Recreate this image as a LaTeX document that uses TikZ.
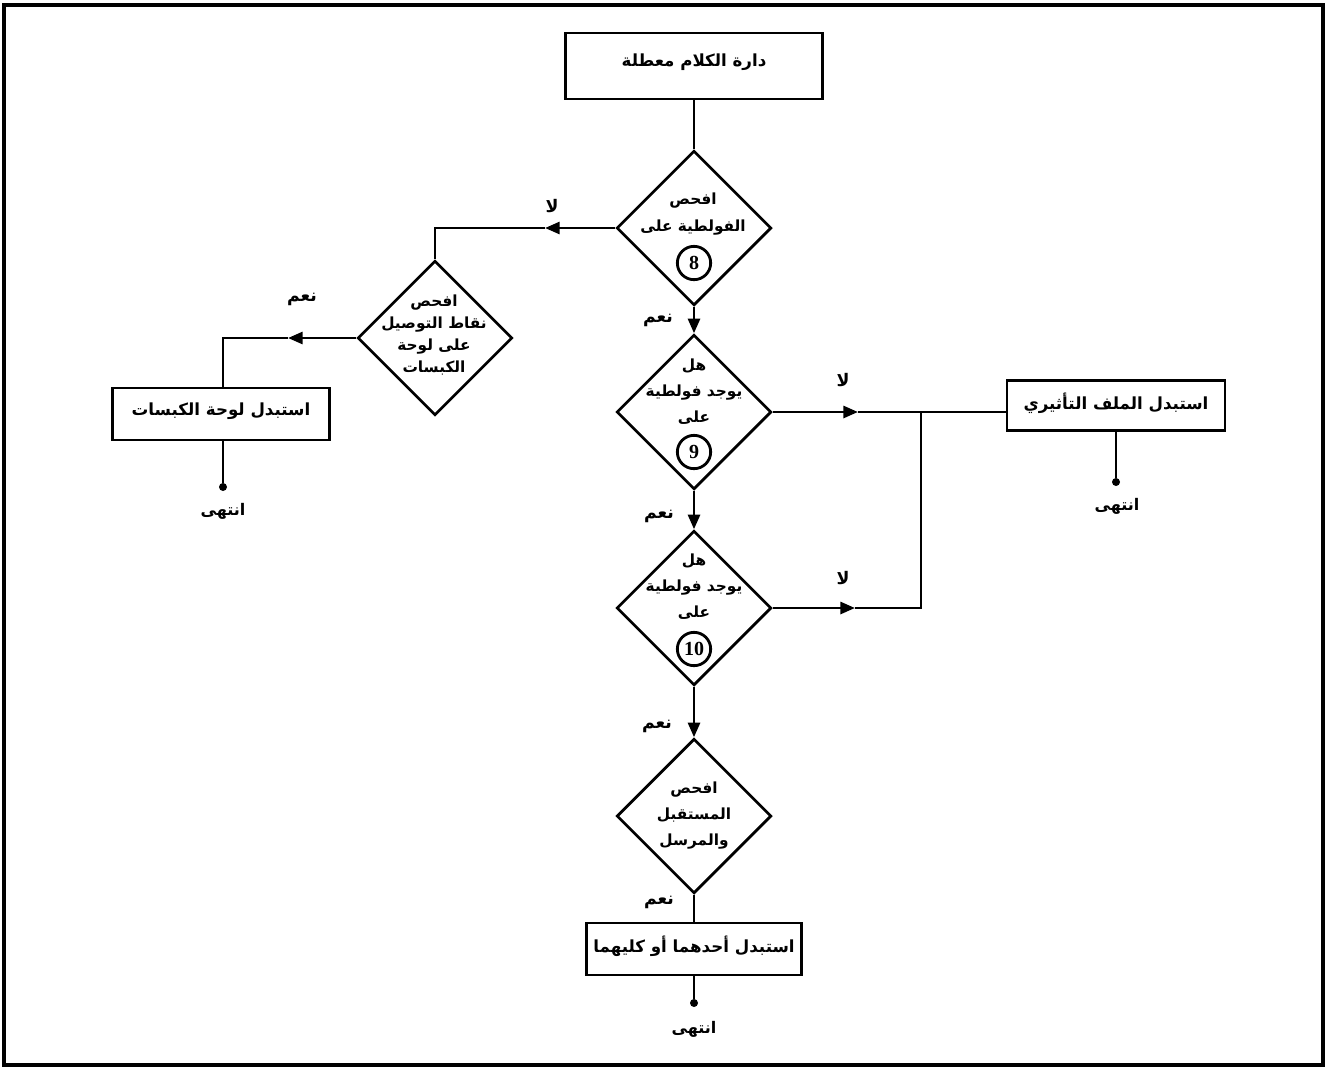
\documentclass[tikz,border=0pt]{standalone}
\usepackage{fontspec}
\TeXXeTstate=1
\newfontfamily\arabicfont[Script=Arabic]{DejaVu Sans}
\setmainfont{Liberation Serif}
\usetikzlibrary{shapes.geometric,arrows.meta}
\newcommand\ar[1]{{\arabicfont\bfseries\beginR #1\endR}}
\tikzset{
  ln/.style={line width=2.1pt},
  arr/.style={ln,-{Triangle[length=11pt,width=9pt]}},
  boxn/.style={draw,ln,rectangle,inner sep=0pt},
  dia/.style={draw,ln,diamond,minimum width=116pt,minimum height=116pt,inner sep=0pt},
  txtbox/.style={inner sep=0pt,font=\fontsize{12.5}{14}\selectfont},
  txtdia/.style={inner sep=0pt,align=center},
  lab/.style={inner sep=0pt,font=\fontsize{13}{15}\selectfont},
  endlab/.style={inner sep=0pt,font=\fontsize{12}{14}\selectfont},
  numc/.style={draw,ln,circle,minimum size=25pt,inner sep=0pt,font=\fontsize{15}{16}\selectfont\bfseries},
  enddot/.style={circle,fill=black,minimum size=6pt,inner sep=0pt},
}
\begin{document}
\begin{tikzpicture}[x=0.75pt,y=-0.75pt]
\useasboundingbox (0,0) rectangle (1327,1068);
\draw[line width=2.6pt] (4,5) rectangle (1323,1065);

% nodes
\node[boxn,minimum width=193pt,minimum height=49.5pt] (t) at (694,66) {};
\node[txtbox] (tt) at (694,62) {\ar{دارة الكلام معطلة}};

\node[dia] (d1) at (694,228) {};
\node[txtdia,font=\fontsize{11.5}{20}\selectfont] (d1t) at (693,214) {\ar{افحص}\\\ar{الفولطية على}};
\node[numc] (c8) at (694,263) {8};

\node[dia] (dl) at (435,338) {};
\node[txtdia,font=\fontsize{11.5}{16.5}\selectfont] (dlt) at (434,335) {\ar{افحص}\\\ar{نقاط التوصيل}\\\ar{على لوحة}\\\ar{الكبسات}};

\node[boxn,minimum width=163pt,minimum height=39pt] (lb) at (221,414) {};
\node[txtbox] (lbt) at (221,411) {\ar{استبدل لوحة الكبسات}};
\node[enddot] (ldot) at (223,487) {};
\node[endlab] (lend) at (223,511) {\ar{انتهى}};

\node[dia] (d2) at (694,412) {};
\node[txtdia,font=\fontsize{11.5}{19.5}\selectfont] (d2t) at (694,392) {\ar{هل}\\\ar{يوجد فولطية}\\\ar{على}};
\node[numc] (c9) at (694,452) {9};

\node[dia] (d3) at (694,608) {};
\node[txtdia,font=\fontsize{11.5}{19.5}\selectfont] (d3t) at (694,587) {\ar{هل}\\\ar{يوجد فولطية}\\\ar{على}};
\node[numc] (c10) at (694,649) {10};

\node[boxn,minimum width=163.5pt,minimum height=38pt] (rb) at (1116,405.5) {};
\node[txtbox] (rbt) at (1116,403) {\ar{استبدل الملف التأثيري}};
\node[enddot] (rdot) at (1116,482) {};
\node[endlab] (rend) at (1117,506) {\ar{انتهى}};

\node[dia] (d4) at (694,816) {};
\node[txtdia,font=\fontsize{11.5}{19.5}\selectfont] (d4t) at (694,816) {\ar{افحص}\\\ar{المستقبل}\\\ar{والمرسل}};

\node[boxn,minimum width=161pt,minimum height=39pt] (bb) at (694,949) {};
\node[txtbox] (bbt) at (694,946) {\ar{استبدل أحدهما أو كليهما}};
\node[enddot] (bdot) at (694,1003) {};
\node[endlab] (bend) at (694,1029) {\ar{انتهى}};

% labels
\node[lab] (l1) at (552,206) {\ar{لا}};
\node[lab] (l2) at (843,380) {\ar{لا}};
\node[lab] (l3) at (843,578) {\ar{لا}};
\node[lab] (y1) at (302,299) {\ar{نعم}};
\node[lab] (y2) at (658,320) {\ar{نعم}};
\node[lab] (y3) at (659,516) {\ar{نعم}};
\node[lab] (y4) at (657,726) {\ar{نعم}};
\node[lab] (y5) at (659,902) {\ar{نعم}};

% coordinates
\coordinate (a1) at (545,228);
\coordinate (k1) at (435,228);
\coordinate (a2) at (288,338);
\coordinate (k2) at (223,338);
\coordinate (a3) at (858,412);
\coordinate (a4) at (855,608);
\coordinate (j1) at (921,412);
\coordinate (j2) at (921,608);

% connectors
\draw[ln] (t.south) -- (d1.north);
\draw[arr] (d1.west) -- (a1);
\draw[ln] (a1) -- (k1) -- (dl.north);
\draw[arr] (dl.west) -- (a2);
\draw[ln] (a2) -- (k2) -- (k2 |- lb.north);
\draw[ln] (ldot |- lb.south) -- (ldot);
\draw[arr] (d1.south) -- (d2.north);
\draw[arr] (d2.east) -- (a3);
\draw[ln] (a3) -- (a3 -| rb.west);
\draw[arr] (d3.east) -- (a4);
\draw[ln] (a4) -- (j2) -- (j1);
\draw[ln] (rb.south -| rdot) -- (rdot);
\draw[arr] (d2.south) -- (d3.north);
\draw[arr] (d3.south) -- (d4.north);
\draw[ln] (d4.south) -- (bb.north);
\draw[ln] (bb.south) -- (bdot);
\end{tikzpicture}
\end{document}
